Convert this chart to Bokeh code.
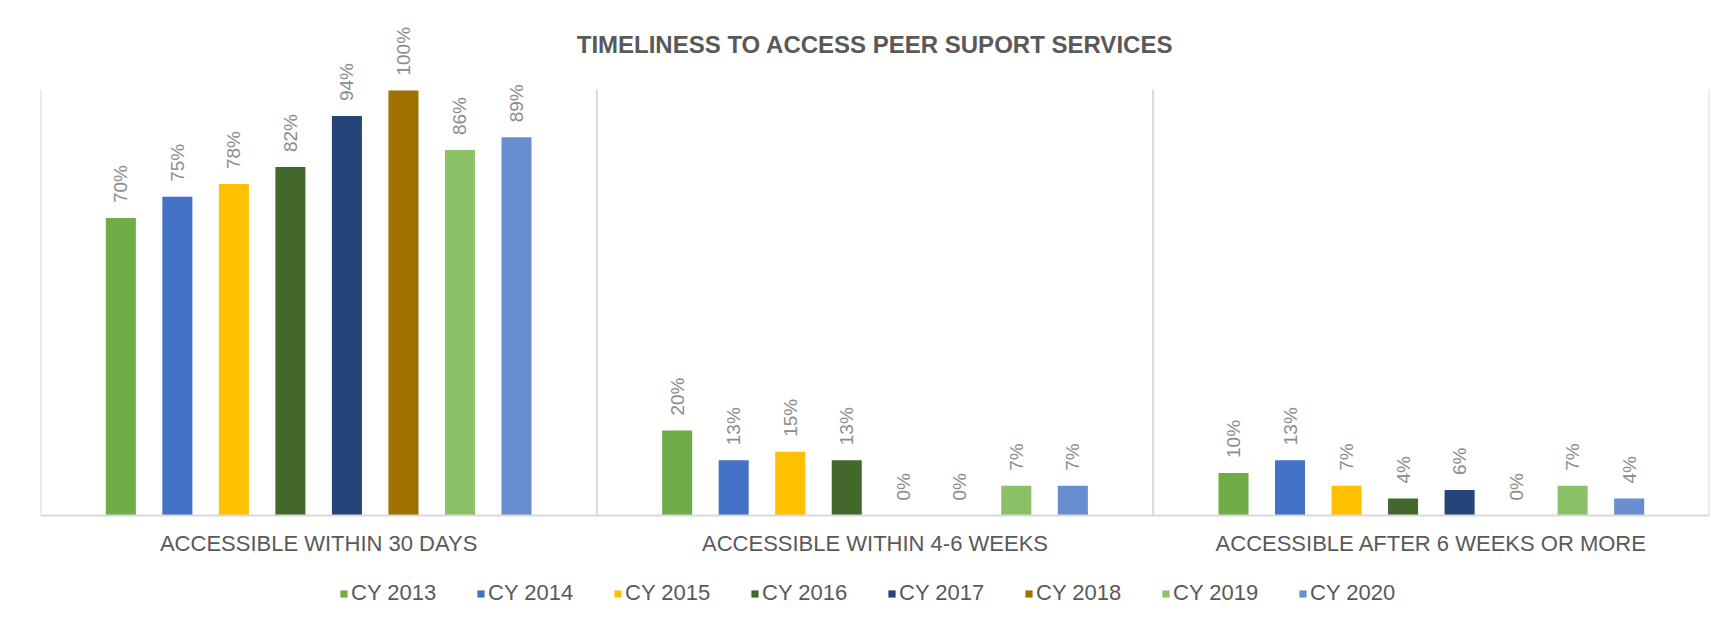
from bokeh.plotting import figure
from bokeh.models import (ColumnDataSource, Range1d, Legend, LegendItem, Label, Span)
from bokeh.transform import dodge
from bokeh.core.properties import value
from bokeh.embed import file_html
from bokeh.resources import INLINE
import math

# ---- data ----
categories = ["ACCESSIBLE WITHIN 30 DAYS", "ACCESSIBLE WITHIN 4-6 WEEKS",
              "ACCESSIBLE AFTER 6 WEEKS OR MORE"]
years = ["CY 2013", "CY 2014", "CY 2015", "CY 2016", "CY 2017", "CY 2018",
         "CY 2019", "CY 2020"]
cy2013 = [70, 20, 10]
cy2014 = [75, 13, 13]
cy2015 = [78, 15, 7]
cy2016 = [82, 13, 4]
cy2017 = [94, 0, 6]
cy2018 = [100, 0, 0]
cy2019 = [86, 7, 7]
cy2020 = [89, 7, 4]
series = [cy2013, cy2014, cy2015, cy2016, cy2017, cy2018, cy2019, cy2020]
colors = ["#70AD47", "#4472C4", "#FFC000", "#43682B", "#264478", "#9E7100",
          "#8CC168", "#698ED0"]
title_text = "TIMELINESS TO ACCESS PEER SUPORT SERVICES"

FONT = "Liberation Sans"
GRID = "#d9d9d9"
TOP = 100.25           # value at the top of the plot area
PX = TOP / 426.0       # data units per pixel

p = figure(width=1728, height=618, x_range=categories,
           y_range=Range1d(-103 * PX, TOP + 89 * PX), output_backend="svg",
           toolbar_location=None, y_axis_location=None, x_axis_location=None,
           min_border_left=40, min_border_right=19, min_border_top=0,
           min_border_bottom=0)
p.x_range.range_padding = 0
p.outline_line_color = None
p.xgrid.visible = False
p.ygrid.visible = False

# plot-area frame lines (left, separators, right) and baseline
p.segment(x0=[0, 1, 2, 3], x1=[0, 1, 2, 3], y0=0, y1=TOP,
          line_color=GRID, line_width=2)
p.add_layout(Span(location=0, dimension="width", line_color=GRID, line_width=2))

step = 0.1016
bw = 0.054
items = []
for i, (yr, vals, col) in enumerate(zip(years, series, colors)):
    src = ColumnDataSource(dict(cat=categories, v=vals,
                                lab=[f"{v}%" for v in vals]))
    off = (i - 3.5) * step
    r = p.vbar(x=dodge("cat", off, range=p.x_range), top="v", width=bw,
               source=src, fill_color=col, line_color=None)
    p.text(x=dodge("cat", off, range=p.x_range), y="v", text="lab",
           source=src, angle=math.pi / 2, text_align="left",
           text_baseline="middle", y_offset=-15,
           text_font=value(FONT), text_font_size="19px",
           text_color="#8c8c8c")
    items.append(LegendItem(label=yr, renderers=[r]))

# category labels
cat_src = ColumnDataSource(dict(cat=categories, y=[0] * len(categories)))
p.text(x="cat", y="y", text="cat", source=cat_src, y_offset=28,
       text_align="center", text_baseline="middle",
       text_font=value(FONT), text_font_size="22px", text_color="#595959")

# title
p.add_layout(Label(x=1.5, y=TOP + 45 * PX, text=title_text,
                   text_align="center", text_baseline="middle",
                   text_font=FONT, text_font_size="24px",
                   text_font_style="bold", text_color="#595959"))

legend = Legend(items=items, orientation="horizontal", location=(299, 12),
                label_text_font=FONT, label_text_font_size="22px",
                label_text_color="#595959", glyph_width=9, glyph_height=9,
                label_standoff=3, label_width=100, spacing=25,
                border_line_color=None, background_fill_alpha=0,
                margin=0, padding=0)
p.add_layout(legend, "center")

open("out.html", "w").write(file_html(p, INLINE))
